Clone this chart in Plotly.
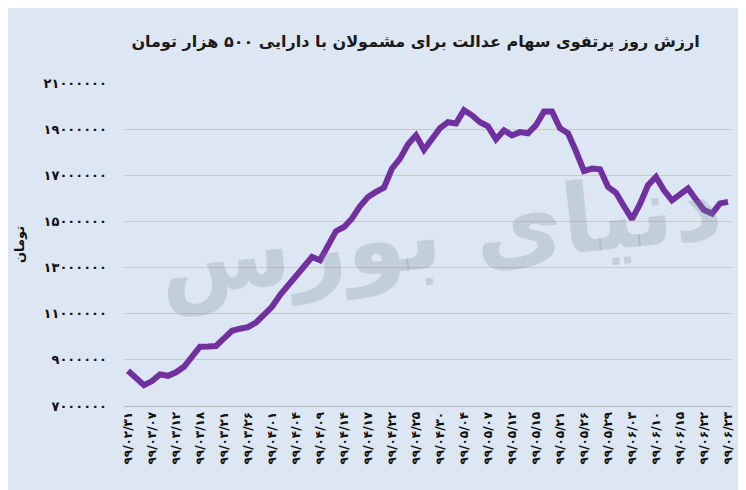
import plotly.graph_objects as go

# ---- data ----
values = [
    8530000, 8200000, 7900000, 8080000, 8370000, 8310000, 8460000, 8700000, 9110000, 9570000,
    9580000, 9600000, 9930000, 10260000, 10350000, 10420000, 10620000, 10940000, 11300000, 11810000,
    12210000, 12660000, 13070000, 13460000, 13320000, 14010000, 14580000, 14760000, 15130000, 15660000,
    16060000, 16280000, 16470000, 17290000, 17720000, 18340000, 18730000, 18110000, 18560000, 19040000,
    19300000, 19250000, 19820000, 19600000, 19300000, 19120000, 18560000, 18950000, 18730000, 18870000,
    18820000, 19170000, 19770000, 19770000, 19040000, 18820000, 18040000, 17180000, 17290000, 17260000,
    16500000, 16240000, 15660000, 15100000, 15760000, 16570000, 16930000, 16350000, 15910000, 16170000,
    16430000, 15950000, 15490000, 15340000, 15780000, 15850000,
]
date_labels = [
    "۹۹/۰۲/۳۱", "۹۹/۰۳/۰۷", "۹۹/۰۳/۱۲", "۹۹/۰۳/۱۸", "۹۹/۰۳/۲۱", "۹۹/۰۳/۲۶",
    "۹۹/۰۴/۰۱", "۹۹/۰۴/۰۴", "۹۹/۰۴/۰۹", "۹۹/۰۴/۱۴", "۹۹/۰۴/۱۷", "۹۹/۰۴/۲۲",
    "۹۹/۰۴/۲۵", "۹۹/۰۴/۳۰", "۹۹/۰۵/۰۴", "۹۹/۰۵/۰۷", "۹۹/۰۵/۱۲", "۹۹/۰۵/۱۵",
    "۹۹/۰۵/۲۱", "۹۹/۰۵/۲۶", "۹۹/۰۵/۲۹", "۹۹/۰۶/۰۳", "۹۹/۰۶/۱۰", "۹۹/۰۶/۱۵",
    "۹۹/۰۶/۲۲", "۹۹/۰۶/۲۳",
]
label_step = 3
y_tickvals = [7000000, 9000000, 11000000, 13000000, 15000000, 17000000, 19000000, 21000000]
y_ticktext = ["۷۰۰۰۰۰۰", "۹۰۰۰۰۰۰", "۱۱۰۰۰۰۰۰", "۱۳۰۰۰۰۰۰", "۱۵۰۰۰۰۰۰",
              "۱۷۰۰۰۰۰۰", "۱۹۰۰۰۰۰۰", "۲۱۰۰۰۰۰۰"]
title_text = "ارزش روز پرتفوی سهام عدالت برای مشمولان با دارایی ۵۰۰ هزار تومان"
y_title = "تومان"
watermark = "دنیای بورس"

x = list(range(len(values)))
x_tickvals = [i * label_step for i in range(len(date_labels))]

BG = "#dde7f3"
FONT = "DejaVu Sans"

fig = go.Figure()
fig.add_trace(go.Scatter(
    x=x, y=values, mode="lines",
    line=dict(color="#7030a0", width=6),
    hoverinfo="skip", showlegend=False,
))

fig.update_layout(
    width=746, height=490,
    paper_bgcolor=BG, plot_bgcolor=BG,
    margin=dict(l=116, r=22, t=75, b=92),
    title=dict(text="<b>" + title_text + "</b>", x=0.947, xanchor="right",
               y=0.931, yanchor="middle", xref="paper",
               font=dict(family=FONT, size=16, color="#1a1a1a")),
    xaxis=dict(
        range=[-0.5, len(values) - 0.5],
        tickmode="array", tickvals=x_tickvals,
        ticktext=["<b>" + t + "</b>" for t in date_labels],
        tickangle=-90, tickfont=dict(family=FONT, size=12, color="#111"),
        showgrid=False, zeroline=False,
        showline=True, linecolor="#b8b8b8", linewidth=1,
        ticks="", fixedrange=True,
    ),
    yaxis=dict(
        range=[7000000, 21000000],
        tickmode="array", tickvals=y_tickvals,
        ticktext=["<b>" + t + "</b>" for t in y_ticktext],
        tickfont=dict(family=FONT, size=13, color="#111"),
        showgrid=True, gridcolor="#c9c9c9", gridwidth=1,
        zeroline=False, showline=False, ticks="",
        ticklabelstandoff=16,
        title=dict(text="<b>" + y_title + "</b>", standoff=15,
                   font=dict(family=FONT, size=13, color="#111")),
    ),
    annotations=[dict(
        text="<b>" + watermark + "</b>", xref="paper", yref="paper", x=0.52, y=0.53,
        showarrow=False, textangle=-6,
        font=dict(family=FONT, size=96, color="rgba(120,135,150,0.26)"),
    )],
)

fig.write_html("out.html")
